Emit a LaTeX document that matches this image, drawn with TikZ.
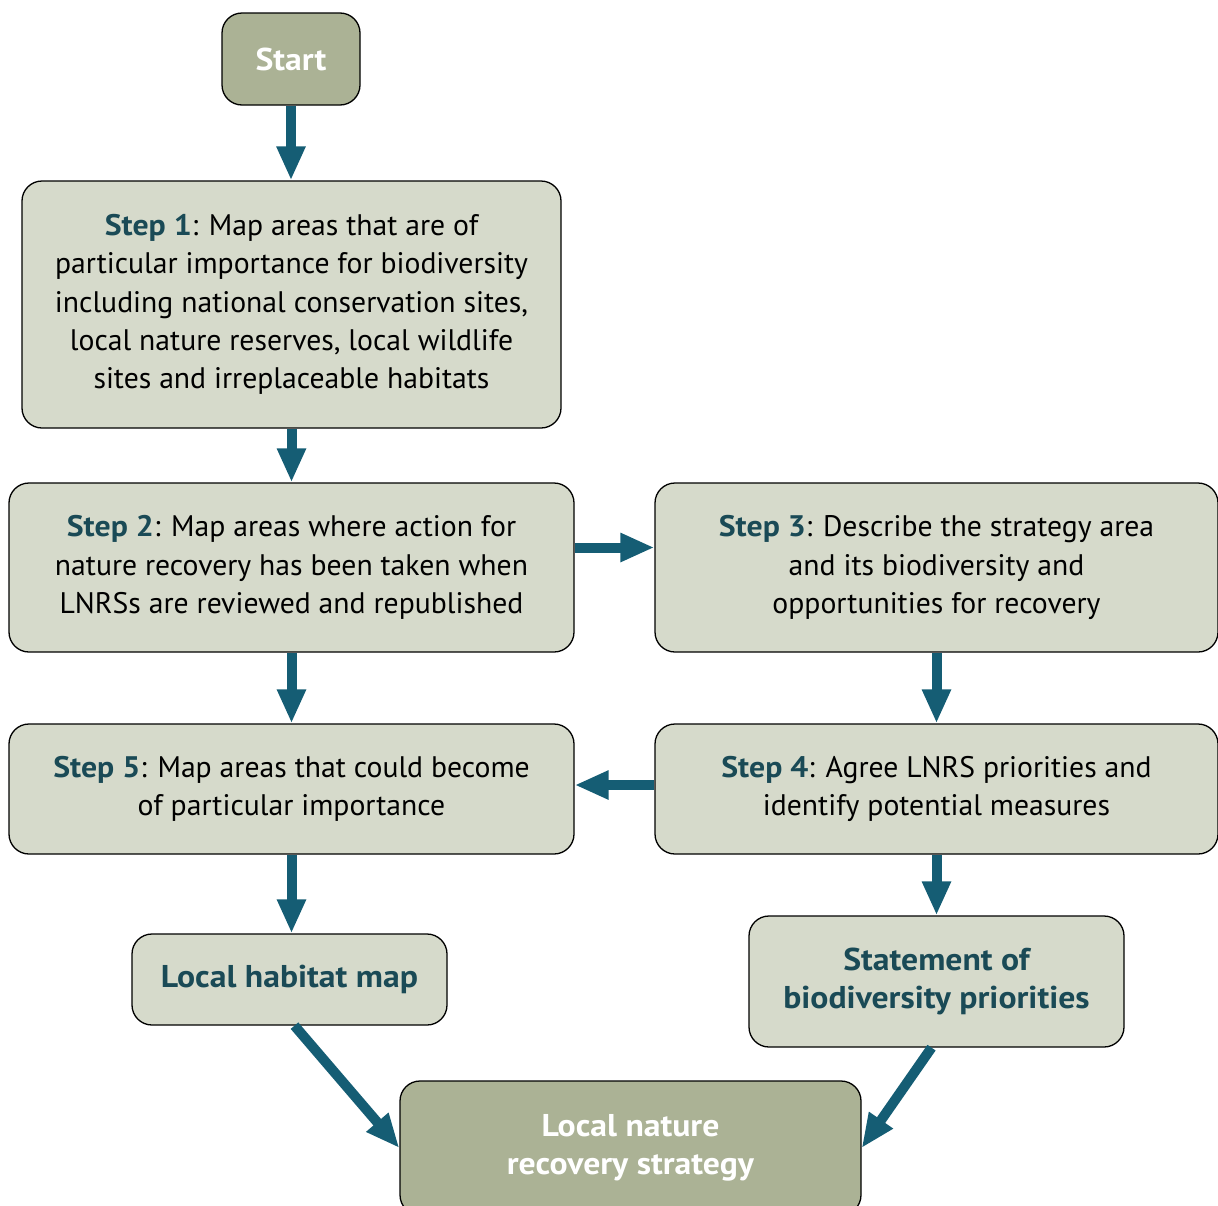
\documentclass[tikz,border=0pt]{standalone}
\usepackage{fontspec}
\setmainfont[BoldFeatures={FakeStretch=1.07}]{PT Sans}
\usetikzlibrary{arrows.meta}
\definecolor{arrowc}{HTML}{155D74}
\definecolor{olivef}{HTML}{ABB295}
\definecolor{lightf}{HTML}{D6DACB}
\definecolor{darkt}{HTML}{1A4A56}
\tikzset{
  box/.style={draw=black, line width=1.3pt, rounded corners=20pt, fill=lightf, inner sep=0pt, align=center, text=black,
    font=\fontsize{29.7}{38.3}\selectfont},
  obox/.style={box, fill=olivef, text=white, font=\fontsize{31.5}{38.3}\selectfont\bfseries},
  hbox/.style={box, text=darkt, font=\fontsize{31.5}{38.3}\selectfont\bfseries},
  arr/.style={draw=arrowc, line width=10pt, -{Triangle[width=27pt,length=34pt]}, arrowc},
}
\newcommand{\stp}[1]{\textbf{\color{darkt}Step #1}}
\begin{document}
\begin{tikzpicture}[x=1pt,y=-1pt]
\useasboundingbox (0,0) rectangle (1218,1205);
\node[obox, minimum width=138pt, minimum height=92pt] (start) at (291,59) {Start};
\node[box, minimum width=539pt, minimum height=247pt] (s1) at (291.5,304.5)
  {\stp{1}: Map areas that are of\\particular importance for biodiversity\\including national conservation sites,\\local nature reserves, local wildlife\\sites and irreplaceable habitats};
\node[box, minimum width=565pt, minimum height=169pt] (s2) at (291.5,567.5)
  {\stp{2}: Map areas where action for\\nature recovery has been taken when\\LNRSs are reviewed and republished};
\node[box, minimum width=563pt, minimum height=169pt] (s3) at (936.5,567.5)
  {\stp{3}: Describe the strategy area\\and its biodiversity and\\opportunities for recovery};
\node[box, minimum width=565pt, minimum height=130pt] (s5) at (291.5,789)
  {\stp{5}: Map areas that could become\\of particular importance};
\node[box, minimum width=563pt, minimum height=130pt] (s4) at (936.5,789)
  {\stp{4}: Agree LNRS priorities and\\identify potential measures};
\node[hbox, minimum width=315pt, minimum height=91pt] (lhm) at (289.5,979.5) {Local habitat map};
\node[hbox, minimum width=375pt, minimum height=131pt] (stat) at (936.5,981.5) {Statement of\\biodiversity priorities};
\node[obox, minimum width=461pt, minimum height=134pt] (lnrs) at (630.5,1148) {Local nature\\recovery strategy};
\draw[arr] (start.south) -- (start.south |- s1.north);
\draw[arr] (s1.south) -- (s1.south |- s2.north);
\draw[arr] ([yshift=20pt]s2.east) -- ([yshift=20pt]s2.east -| s3.west);
\draw[arr] (s3.south) -- (s3.south |- s4.north);
\draw[arr] ([yshift=4pt]s4.west) -- ([yshift=4pt]s4.west -| s5.east);
\draw[arr] (s2.south) -- (s2.south |- s5.north);
\draw[arr] (s5.south) -- (s5.south |- lhm.north);
\draw[arr] (s4.south) -- (s4.south |- stat.north);
\draw[arr] ([xshift=5pt]lhm.south) -- (lnrs.west);
\draw[arr] ([xshift=-5pt]stat.south) -- (lnrs.east);
\end{tikzpicture}
\end{document}
